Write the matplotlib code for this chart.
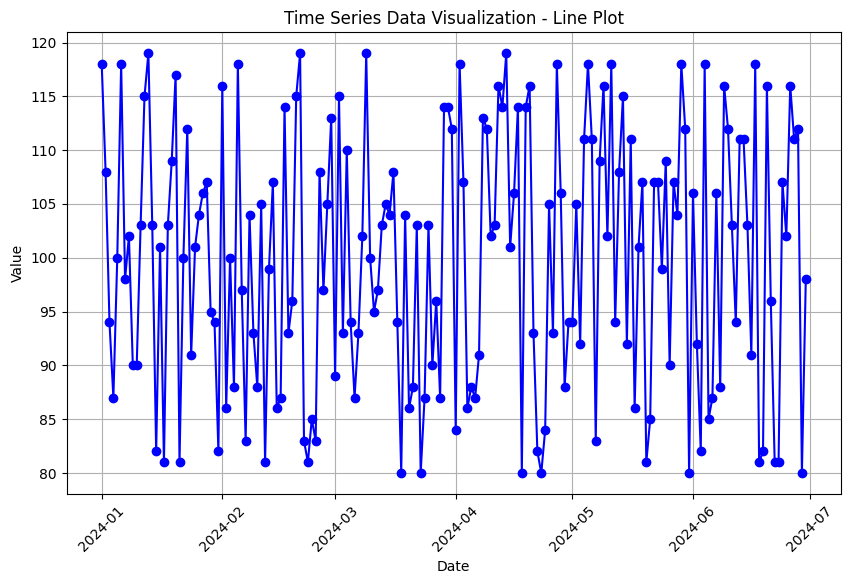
import matplotlib
matplotlib.use("Agg")
import matplotlib.pyplot as plt
import pandas as pd

start_date = "2024-01-01"
values = [
    118, 108, 94, 87, 100, 118, 98, 102, 90, 90,
    103, 115, 119, 103, 82, 101, 81, 103, 109, 117,
    81, 100, 112, 91, 101, 104, 106, 107, 95, 94,
    82, 116, 86, 100, 88, 118, 97, 83, 104, 93,
    88, 105, 81, 99, 107, 86, 87, 114, 93, 96,
    115, 119, 83, 81, 85, 83, 108, 97, 105, 113,
    89, 115, 93, 110, 94, 87, 93, 102, 119, 100,
    95, 97, 103, 105, 104, 108, 94, 80, 104, 86,
    88, 103, 80, 87, 103, 90, 96, 87, 114, 114,
    112, 84, 118, 107, 86, 88, 87, 91, 113, 112,
    102, 103, 116, 114, 119, 101, 106, 114, 80, 114,
    116, 93, 82, 80, 84, 105, 93, 118, 106, 88,
    94, 94, 105, 92, 111, 118, 111, 83, 109, 116,
    102, 118, 94, 108, 115, 92, 111, 86, 101, 107,
    81, 85, 107, 107, 99, 109, 90, 107, 104, 118,
    112, 80, 106, 92, 82, 118, 85, 87, 106, 88,
    116, 112, 103, 94, 111, 111, 103, 91, 118, 81,
    82, 116, 96, 81, 81, 107, 102, 116, 111, 112,
    80, 98,
]
dates = pd.date_range(start=start_date, periods=len(values), freq="D")

fig = plt.figure(figsize=(8.5, 5.84), dpi=100)
ax = fig.add_axes([66.5 / 850, 1 - 494 / 584, (841 - 66.5) / 850, (494 - 32.3) / 584])
ax.plot(dates, values, marker="o", linestyle="-", color="b")
ax.set_title("Time Series Data Visualization - Line Plot")
ax.set_xlabel("Date")
ax.set_ylabel("Value")
ax.grid(True)
plt.setp(ax.get_xticklabels(), rotation=45)
fig.savefig("out.png", dpi=100)
